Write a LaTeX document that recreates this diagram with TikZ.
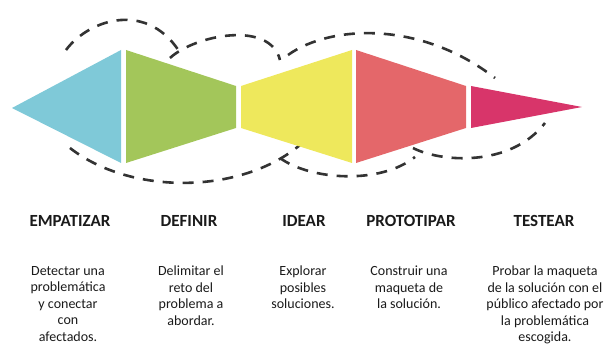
\documentclass[tikz,border=0pt]{standalone}
\usepackage{fontspec}
\setmainfont{Carlito}
\definecolor{cblue}{HTML}{7FC9D8}
\definecolor{cgreen}{HTML}{A3C65A}
\definecolor{cyellow}{HTML}{EEE85C}
\definecolor{csalmon}{HTML}{E4676A}
\definecolor{cmagenta}{HTML}{D8356A}
\definecolor{cdash}{HTML}{333333}
\definecolor{ctext}{HTML}{1A1A1A}
\begin{document}
\begin{tikzpicture}[x=1pt,y=-1pt,
  wave/.style={draw=cdash, line width=2.6pt, dash pattern=on 11pt off 9pt},
  head/.style={font=\fontsize{17}{20}\selectfont\bfseries, anchor=base, inner sep=0pt, text=ctext},
  desc/.style={font=\fontsize{14}{16.5}\selectfont, align=center, anchor=north, inner sep=0pt, text=ctext}]
\useasboundingbox (0,0) rectangle (606,344);
% dashed waves
\draw[wave] (66,50) .. controls (90,18) and (150,0) .. (182,56);
\draw[wave] (170,58) .. controls (195,35) and (270,20) .. (280,60);
\draw[wave] (288,55) .. controls (330,25) and (420,20) .. (495,78);
\draw[wave] (70,148) .. controls (130,195) and (240,195) .. (300,145);
\draw[wave] (280,158) .. controls (310,180) and (380,185) .. (415,157);
\draw[wave] (413,148) .. controls (440,162) and (510,168) .. (545,123);
% stages
\fill[cblue] (12,108) -- (121,50) -- (121,163) -- cycle;
\fill[cgreen] (126,50) -- (236,86) -- (236,128) -- (126,163) -- cycle;
\fill[cyellow] (241,86) -- (352,50) -- (352,163) -- (241,128) -- cycle;
\fill[csalmon] (356,50) -- (466,86) -- (466,128) -- (356,163) -- cycle;
\fill[cmagenta] (471,86) -- (582,107) -- (471,128) -- cycle;
% headers
\node[head] (h1) at (70,227) {EMPATIZAR};
\node[head] (h2) at (189,227) {DEFINIR};
\node[head] (h3) at (304,227) {IDEAR};
\node[head] (h4) at (411,227) {PROTOTIPAR};
\node[head] (h5) at (544,227) {TESTEAR};
% descriptions
\node[desc] (d1) at (68,266) {Detectar una\\problemática\\y conectar\\con\\afectados.};
\node[desc] (d2) at (191,266) {Delimitar el\\reto del\\problema a\\abordar.};
\node[desc] (d3) at (303,266) {Explorar\\posibles\\soluciones.};
\node[desc] (d4) at (409,266) {Construir una\\maqueta de\\la solución.};
\node[desc] (d5) at (545,266) {Probar la maqueta\\de la solución con el\\público afectado por\\la problemática\\escogida.};
\end{tikzpicture}
\end{document}
